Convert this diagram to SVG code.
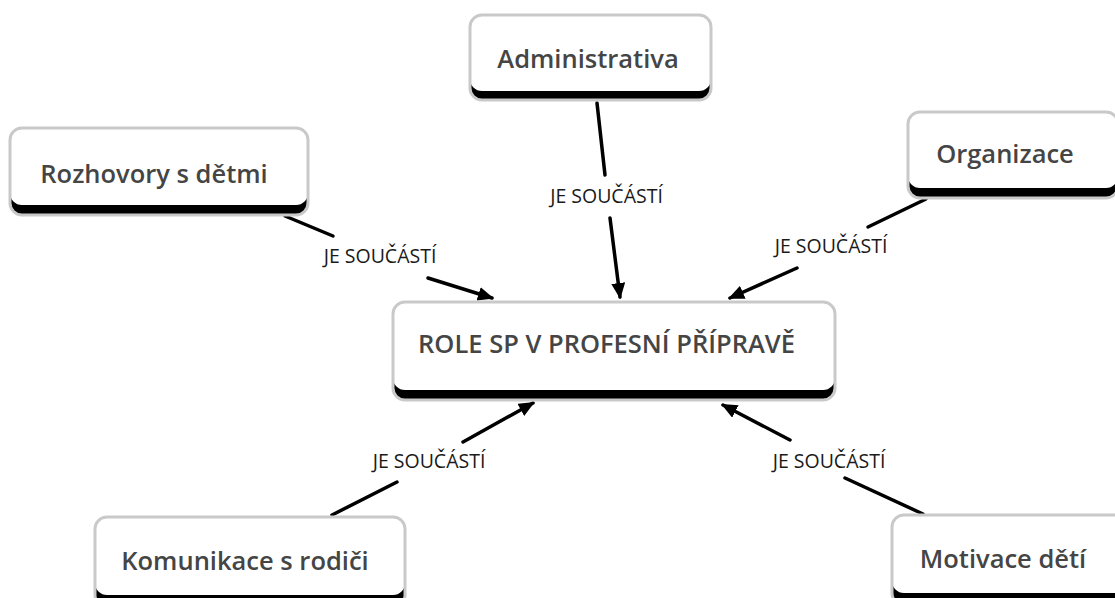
<svg xmlns="http://www.w3.org/2000/svg" width="1115" height="598" viewBox="0 0 1115 598">
<style>
.band{fill:#000}
.face{fill:#fff}
.edge{fill:none;stroke:#c9c9c9;stroke-width:3}
.nt{font-family:"Open Sans","Noto Sans",sans-serif;font-size:25.5px;font-weight:600;fill:#454545;text-anchor:middle}
.lt{font-family:"Open Sans","Noto Sans",sans-serif;font-size:19.5px;fill:#1a1a1a;text-anchor:middle}
.ln{stroke:#000;stroke-width:3.5;fill:none;stroke-linecap:round}
</style>
<defs>
<marker id="ah" markerUnits="userSpaceOnUse" markerWidth="16" markerHeight="14" viewBox="0 0 16 14" refX="14" refY="7" orient="auto">
<path d="M0,0 L16,7 L0,14 Z" fill="#000"/>
</marker>
</defs>
<rect width="1115" height="598" fill="#fff"/>
<g id="connectors">
<line class="ln" x1="285" y1="216" x2="333" y2="236"/>
<line class="ln" x1="428" y1="278" x2="492" y2="298" marker-end="url(#ah)"/>
<text class="lt" x="380" y="263">JE SOUČÁSTÍ</text>
<line class="ln" x1="597" y1="103" x2="605" y2="175"/>
<line class="ln" x1="610" y1="218" x2="620" y2="297" marker-end="url(#ah)"/>
<text class="lt" x="606.5" y="203">JE SOUČÁSTÍ</text>
<line class="ln" x1="926" y1="199" x2="868" y2="227"/>
<line class="ln" x1="797" y1="268" x2="730" y2="298" marker-end="url(#ah)"/>
<text class="lt" x="831" y="253">JE SOUČÁSTÍ</text>
<line class="ln" x1="332" y1="515" x2="397" y2="482"/>
<line class="ln" x1="463" y1="442" x2="533" y2="403" marker-end="url(#ah)"/>
<text class="lt" x="429" y="468">JE SOUČÁSTÍ</text>
<line class="ln" x1="923" y1="514" x2="845" y2="478"/>
<line class="ln" x1="790" y1="440" x2="723" y2="405" marker-end="url(#ah)"/>
<text class="lt" x="829" y="468">JE SOUČÁSTÍ</text>
</g>
<g id="n-administrativa">
<rect class="band" x="470" y="21" width="241" height="79" rx="12"/>
<rect class="face" x="470" y="15" width="241" height="76" rx="12"/>
<rect class="edge" x="470" y="15" width="241" height="85" rx="12"/>
<text class="nt" x="588" y="68">Administrativa</text>
</g>
<g id="n-rozhovory">
<rect class="band" x="10" y="134" width="298" height="81" rx="12"/>
<rect class="face" x="10" y="128" width="298" height="77" rx="12"/>
<rect class="edge" x="10" y="128" width="298" height="87" rx="12"/>
<text class="nt" x="154" y="183">Rozhovory s dětmi</text>
</g>
<g id="n-organizace">
<rect class="band" x="908" y="118" width="210" height="80" rx="12"/>
<rect class="face" x="908" y="112" width="210" height="76" rx="12"/>
<rect class="edge" x="908" y="112" width="210" height="86" rx="12"/>
<text class="nt" x="1005" y="163">Organizace</text>
</g>
<g id="n-role">
<rect class="band" x="393" y="308" width="442" height="92" rx="12"/>
<rect class="face" x="393" y="302" width="442" height="88" rx="12"/>
<rect class="edge" x="393" y="302" width="442" height="98" rx="12"/>
<text class="nt" x="606.5" y="353">ROLE SP V PROFESNÍ PŘÍPRAVĚ</text>
</g>
<g id="n-komunikace">
<rect class="band" x="95" y="523" width="310" height="84" rx="12"/>
<rect class="face" x="95" y="517" width="310" height="78" rx="12"/>
<rect class="edge" x="95" y="517" width="310" height="90" rx="12"/>
<text class="nt" x="245" y="570">Komunikace s rodiči</text>
</g>
<g id="n-motivace">
<rect class="band" x="892" y="521" width="240" height="84" rx="12"/>
<rect class="face" x="892" y="515" width="240" height="78" rx="12"/>
<rect class="edge" x="892" y="515" width="240" height="90" rx="12"/>
<text class="nt" x="1003" y="568">Motivace dětí</text>
</g>
</svg>
